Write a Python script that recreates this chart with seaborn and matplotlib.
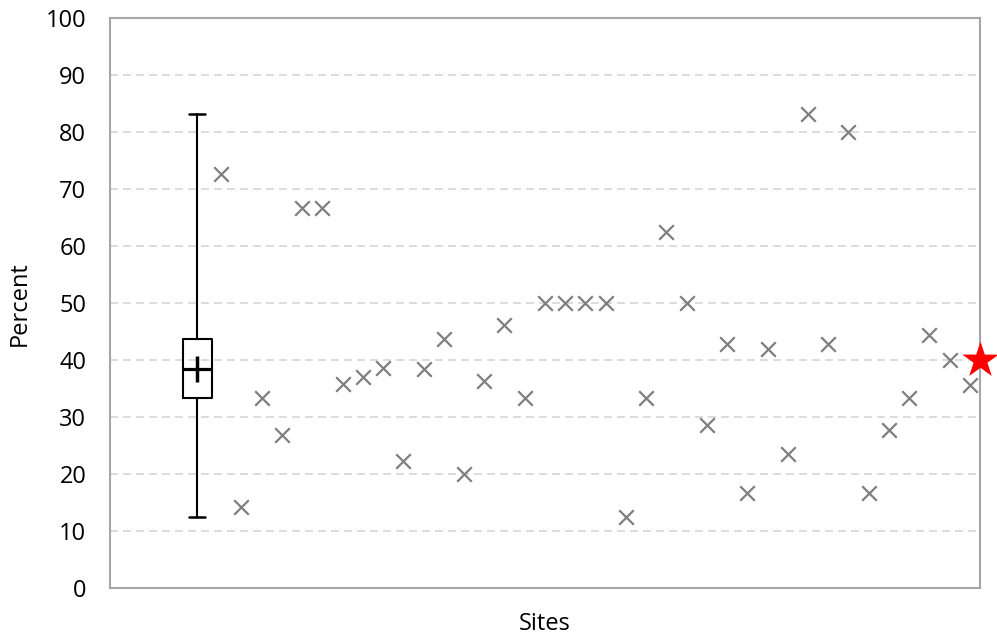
import matplotlib
matplotlib.use("Agg")
import matplotlib.pyplot as plt
import numpy as np
import seaborn as sns

# percent per site, left to right
site_values = [72.7, 14.3, 33.3, 26.9, 66.7, 66.7, 35.8, 37.0, 38.7, 22.3,
               38.4, 43.7, 20.0, 36.4, 46.2, 33.3, 50.0, 50.0, 50.0, 50.0,
               12.5, 33.3, 62.5, 50.0, 28.6, 42.9, 16.7, 42.0, 23.5, 83.3,
               42.9, 80.0, 16.7, 27.8, 33.3, 44.4, 40.0, 35.7]
highlight_value = 40.0

# box summary as drawn in the chart
box_low = 12.5
box_q1 = 33.3
box_median = 38.5
box_q3 = 43.7
box_high = 83.3
box_mean = 38.5

y_ticks = [0, 10, 20, 30, 40, 50, 60, 70, 80, 90, 100]

sns.set_style("white")
plt.rcParams["font.family"] = ["Open Sans", "DejaVu Sans"]
plt.rcParams["font.size"] = 17

fig = plt.figure(figsize=(9.97, 6.35), dpi=100)
ax = fig.add_axes([0.1103, 0.074, 0.8726, 0.8969])

n_slots = len(site_values) + 5
site_pos = np.arange(len(site_values)) + 5.5

ax.yaxis.grid(True, color="#d9d9d9", linestyle=(0, (4.4, 2.8)), linewidth=1.3, zorder=0)
ax.set_axisbelow(True)

stats = [dict(whislo=box_low, q1=box_q1, med=box_median, q3=box_q3,
              whishi=box_high, mean=box_mean, fliers=[])]
ax.bxp(stats, positions=[4.32], widths=1.41, capwidths=0.8,
       showmeans=True, showfliers=False, patch_artist=False,
       boxprops=dict(color="black", linewidth=1.5),
       whiskerprops=dict(color="black", linewidth=1.5),
       capprops=dict(color="black", linewidth=1.8),
       medianprops=dict(color="black", linewidth=2.3),
       meanprops=dict(marker="|", markersize=19, markeredgewidth=2.5,
                      markeredgecolor="black"),
       manage_ticks=False, zorder=3)

sns.scatterplot(x=site_pos, y=site_values, marker="x", color="#7f7f7f",
                s=110, linewidth=1.6, ax=ax, zorder=4)
sns.scatterplot(x=[n_slots], y=[highlight_value], marker="*", color="red",
                s=760, linewidth=0, ax=ax, zorder=5, clip_on=False)

ax.set_xlim(0, n_slots)
ax.set_ylim(0, 100)
ax.set_yticks(y_ticks)
ax.set_xticks([])

for side in ["left", "right", "top", "bottom"]:
    ax.spines[side].set_visible(True)
    ax.spines[side].set_color("#a6a6a6")
    ax.spines[side].set_linewidth(1.5)

ax.tick_params(axis="y", direction="out", length=6, width=1.4,
               color="#a6a6a6", pad=11, labelcolor="black")

ax.set_ylabel("Percent", labelpad=10, color="black")
ax.set_xlabel("Sites", labelpad=17, color="black")

fig.savefig("out.png", dpi=100)
